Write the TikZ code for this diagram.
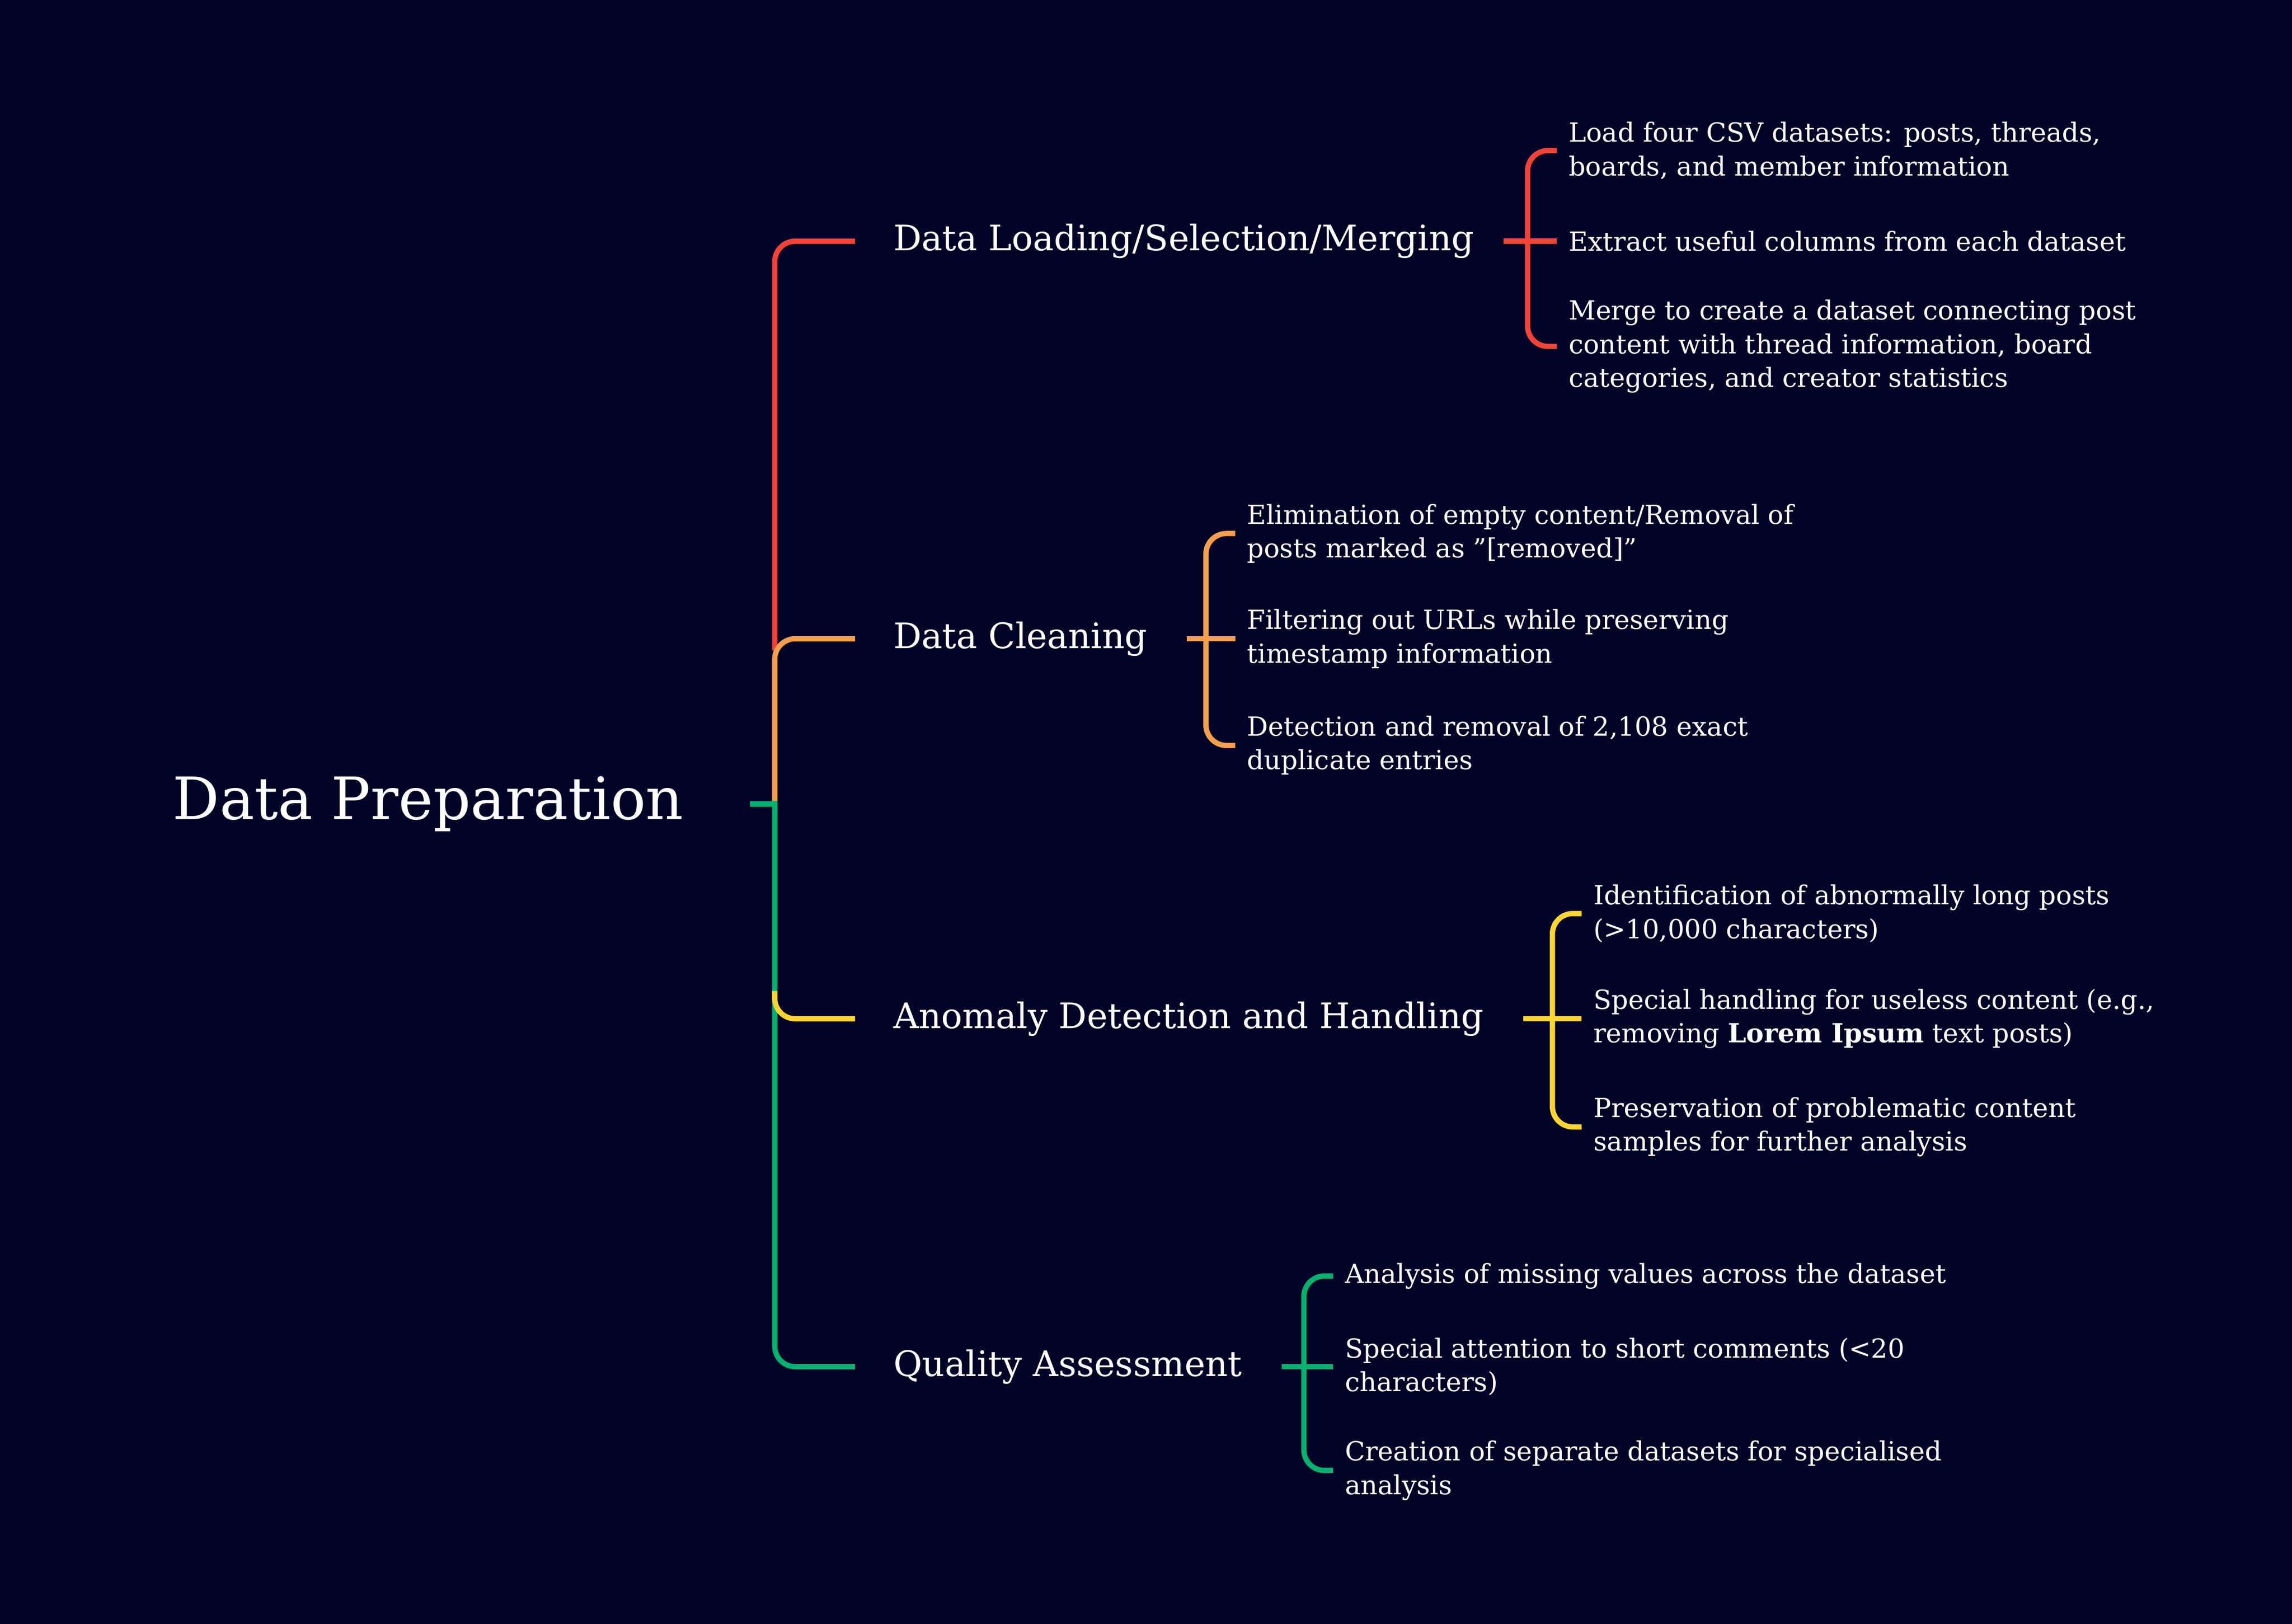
\documentclass[tikz,border=0pt]{standalone}
\usepackage{fontspec}
\setmainfont{DejaVu Serif}
\definecolor{bg}{HTML}{000326}
\definecolor{cred}{HTML}{F44336}
\definecolor{corange}{HTML}{F6A04D}
\definecolor{cyellow}{HTML}{FCD530}
\definecolor{cgreen}{HTML}{00B26F}
\begin{document}
\begin{tikzpicture}[x=1pt,y=-1pt,
  conn/.style={line width=3.6pt,rounded corners=14pt},
  leaf/.style={anchor=west,align=left,text=white,inner sep=0pt,font=\fontsize{18}{23}\selectfont},
  branch/.style={anchor=west,text=white,inner sep=0pt,font=\fontsize{24}{28}\selectfont},
  root/.style={anchor=west,text=white,inner sep=0pt,font=\fontsize{40}{46}\selectfont}]
\fill[bg] (0,0) rectangle (1568,1111);
\useasboundingbox (0,0) rectangle (1568,1111);
\node[root] (r) at (118,550) {Data Preparation};
\node[branch] (b1) at (611,165) {Data Loading/Selection/Merging};
\node[branch] (b2) at (611,437) {Data Cleaning};
\node[branch] (b3) at (611,697) {Anomaly Detection and Handling};
\node[branch] (b4) at (611,935) {Quality Assessment};
% leaves
\node[leaf] (l11) at (1073,103) {Load four CSV datasets: posts, threads,\\boards, and member information};
\node[leaf] (l12) at (1073,165) {Extract useful columns from each dataset};
\node[leaf] (l13) at (1073,237) {Merge to create a dataset connecting post\\content with thread information, board\\categories, and creator statistics};
\node[leaf] (l21) at (853,365) {Elimination of empty content/Removal of\\posts marked as \char"22[removed]\char"22};
\node[leaf] (l22) at (853,437) {Filtering out URLs while preserving\\timestamp information};
\node[leaf] (l23) at (853,510) {Detection and removal of 2,108 exact\\duplicate entries};
\node[leaf] (l31) at (1090,625) {Identification of abnormally long posts\\(>10,000 characters)};
\node[leaf] (l32) at (1090,697) {Special handling for useless content (e.g.,\\removing \textbf{Lorem Ipsum} text posts)};
\node[leaf] (l33) at (1090,771) {Preservation of problematic content\\samples for further analysis};
\node[leaf] (l41) at (920,873) {Analysis of missing values across the dataset};
\node[leaf] (l42) at (920,935) {Special attention to short comments (<20\\characters)};
\node[leaf] (l43) at (920,1006) {Creation of separate datasets for specialised\\analysis};
% trunk
\coordinate (t0) at (513,550);
\coordinate (t1) at (531.8,550);
\draw[conn,cred] ([xshift=-26pt]b1.west) -- (530,165) -- (530,445);
\draw[conn,corange] ([xshift=-26pt]b2.west) -- (530,437) -- (530,550);
\draw[conn,cgreen] (530,548) -- (530,935) -- ([xshift=-26pt]b4.west);
\draw[line width=3.6pt,cgreen] (t0) -- (t1);
\draw[conn,cyellow] ([xshift=-26pt]b3.west) -- (530,697) -- (530,678);
% sub brackets
\draw[conn,cred] ([xshift=20pt]b1.east) -- ([xshift=-8pt]l12.west);
\draw[conn,cred] ([xshift=-8pt]l11.west) -- (1045,103) -- (1045,237) -- ([xshift=-8pt]l13.west);
\draw[conn,corange] ([xshift=27pt]b2.east) -- ([xshift=-8pt]l22.west);
\draw[conn,corange] ([xshift=-8pt]l21.west) -- (825,365) -- (825,510) -- ([xshift=-8pt]l23.west);
\draw[conn,cyellow] ([xshift=27pt]b3.east) -- ([xshift=-8pt]l32.west);
\draw[conn,cyellow] ([xshift=-8pt]l31.west) -- (1062,625) -- (1062,771) -- ([xshift=-8pt]l33.west);
\draw[conn,cgreen] ([xshift=27pt]b4.east) -- ([xshift=-8pt]l42.west);
\draw[conn,cgreen] ([xshift=-8pt]l41.west) -- (892,873) -- (892,1006) -- ([xshift=-8pt]l43.west);
\end{tikzpicture}
\end{document}
